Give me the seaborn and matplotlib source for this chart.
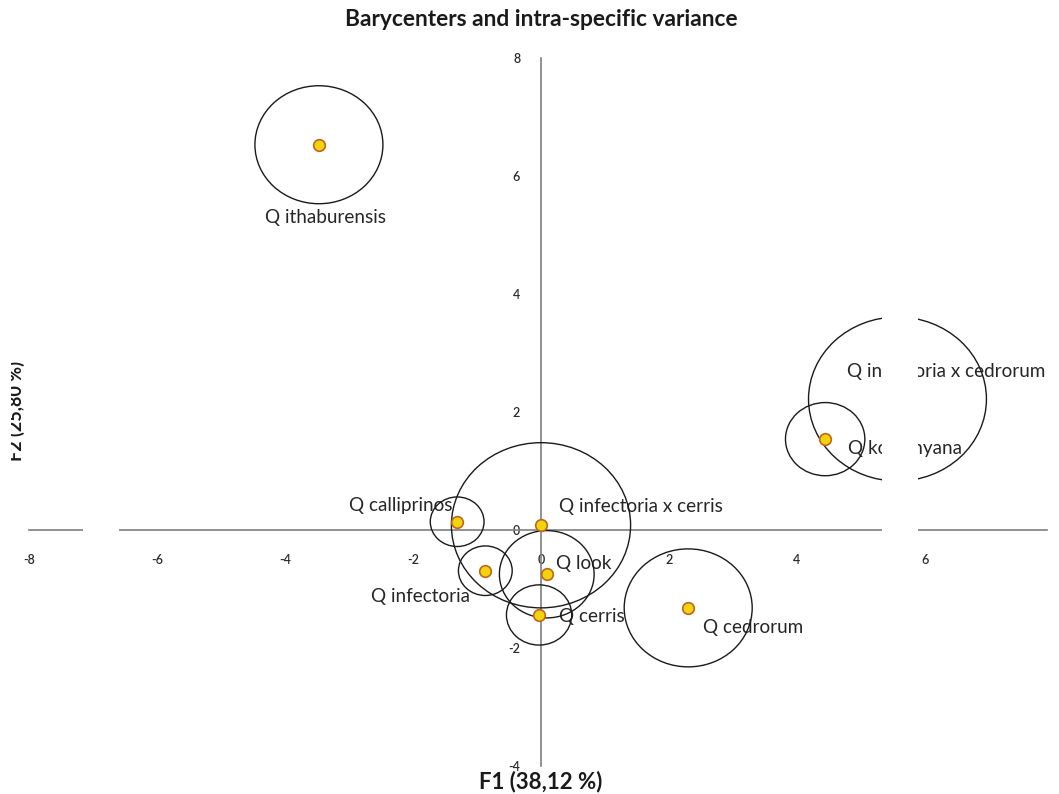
import matplotlib
matplotlib.use("Agg")
import matplotlib.pyplot as plt
from matplotlib.patches import Ellipse, Rectangle
import seaborn as sns
import pandas as pd

# Barycenters of each species on the first two factorial axes
species = ["Q ithaburensis", "Q calliprinos", "Q infectoria x cerris", "Q infectoria",
           "Q look", "Q cerris", "Q cedrorum", "Q kotschyana", "Q infectoria x cedrorum"]
f1 = [-3.47, -1.31, 0.00, -0.87, 0.09, -0.03, 2.30, 4.44, 5.57]
f2 = [6.53, 0.14, 0.08, -0.69, -0.75, -1.44, -1.32, 1.54, 2.22]
# Radius of the intra-specific variance circle
radius = [1.00, 0.42, 1.40, 0.42, 0.74, 0.51, 1.00, 0.62, 1.39]

x_ticks = [-8, -6, -4, -2, 0, 2, 4, 6]
y_ticks = [-4, -2, 0, 2, 4, 6, 8]

# Label placement (pixel offsets from each barycenter, alignment)
label_offsets = {
    "Q ithaburensis": (7, -73, "center"),
    "Q calliprinos": (-5, 16, "right"),
    "Q infectoria x cerris": (18, 19, "left"),
    "Q infectoria": (-15, -26, "right"),
    "Q look": (9, 11, "left"),
    "Q cerris": (20, -2, "left"),
    "Q cedrorum": (15, -20, "left"),
    "Q kotschyana": (23, -9, "left"),
    "Q infectoria x cedrorum": (-50, 28, "left"),
}

df = pd.DataFrame({"species": species, "F1": f1, "F2": f2, "r": radius})

sns.set_style("white")
plt.rcParams["font.family"] = ["Lato", "DejaVu Sans"]
plt.rcParams["axes.unicode_minus"] = False

W, H = 1059, 794
fig = plt.figure(figsize=(W / 100, H / 100), dpi=100)
ax = fig.add_axes([16.2 / W, (H - 777.8) / H, (1053 - 16.2) / W, (777.8 - 46.2) / H])
ax.set_xlim(-8.2, 8.0)
ax.set_ylim(-4.2, 8.2)

axis_col = "#7f7f7f"
for side in ["top", "right"]:
    ax.spines[side].set_visible(False)
ax.spines["left"].set_position(("data", 0))
ax.spines["bottom"].set_position(("data", 0))
ax.spines["left"].set_bounds(-4, 8)
ax.spines["bottom"].set_bounds(-8, 7.9)
for side in ["left", "bottom"]:
    ax.spines[side].set_color(axis_col)
    ax.spines[side].set_linewidth(1.2)

ax.set_xticks(x_ticks)
ax.set_yticks(y_ticks)
ax.tick_params(axis="both", direction="inout", length=8, width=1, color=axis_col,
               labelsize=9, labelcolor="#2a2a2a")
ax.tick_params(axis="x", pad=13)
ax.tick_params(axis="y", pad=11)
for lab in ax.get_xticklabels() + ax.get_yticklabels():
    lab.set_fontweight("semibold")

# Variance circles
for _, row in df.iterrows():
    ax.add_patch(Ellipse((row.F1, row.F2), 2 * row.r, 2 * row.r, fill=False,
                         edgecolor="#1a1a1a", linewidth=1.0, zorder=4))

# Barycenters
sns.scatterplot(data=df, x="F1", y="F2", ax=ax, s=70, color="#f2d40c",
                edgecolor="#c0641e", linewidth=1.2, zorder=5, legend=False)

for _, row in df.iterrows():
    dx, dy, ha = label_offsets[row.species]
    ax.annotate(row.species, (row.F1, row.F2), xytext=(dx, dy), textcoords="offset pixels",
                ha=ha, va="center", fontsize=13.6, color="#262626", zorder=3)

ax.set_xlabel("")
ax.set_ylabel("")

fig.text(541 / W, 1 - 20 / H, "Barycenters and intra-specific variance", ha="center",
         va="center", fontsize=16.4, fontweight="bold", color="#1a1a1a")
fig.text(541 / W, 1 - 782 / H, "F1 (38,12 %)", ha="center", va="center",
         fontsize=16, fontweight="bold", color="#1a1a1a")
fig.text(16 / W, 1 - 411 / H, "F2 (25,80 %)", ha="center", va="center", rotation=90,
         fontsize=13, fontweight="bold", color="#1a1a1a")

# Blank strips on the canvas
for (x0, y0, x1, y1) in [(0, 340, 11, 480), (83, 505, 119, 545), (882, 310, 918, 545)]:
    fig.patches.append(Rectangle((x0 / W, 1 - y1 / H), (x1 - x0) / W, (y1 - y0) / H,
                                 transform=fig.transFigure, facecolor="white",
                                 edgecolor="none", zorder=10))

fig.savefig("out.png", dpi=100)
